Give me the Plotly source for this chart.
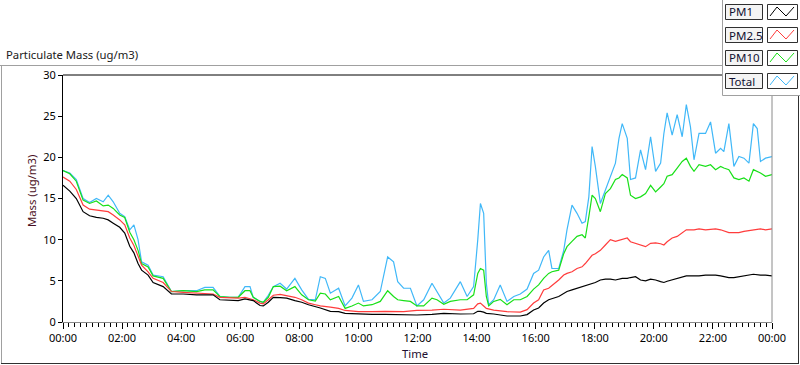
import pandas as pd
import plotly.graph_objects as go

# ---------------- data (hours since midnight, ug/m3) ----------------
t_coarse = [0, 0.23, 0.45, 0.68, 0.9, 1.13, 1.36, 1.53, 1.7, 1.92, 2.09, 2.26, 2.4, 2.54, 2.66, 2.88,
            3.05, 3.39, 3.67, 4.07, 4.52, 4.8, 5.08, 5.31, 5.65, 5.93, 6.16, 6.44, 6.67, 6.78, 6.95,
            7.12, 7.35, 7.57, 7.85, 8.08, 8.31, 8.54, 8.71, 9.05, 9.33, 9.55, 10.0, 10.46, 10.91,
            11.53, 11.98, 12.49, 12.89, 13.45, 13.9, 14.04, 14.13, 14.24, 14.33, 14.58, 15.03, 15.48,
            15.71, 15.93, 16.1, 16.27, 16.44, 16.78, 16.95, 17.06, 17.23, 17.4, 17.57, 17.68, 17.8,
            17.91, 18.02, 18.19, 18.36, 18.53, 18.7, 18.93, 19.1, 19.21, 19.38, 19.55, 19.72, 19.89,
            20.06, 20.23, 20.34, 20.45, 20.62, 20.79, 20.96, 21.1, 21.36, 21.53, 21.75, 22.09, 22.26,
            22.54, 22.71, 22.88, 23.05, 23.37, 23.61, 23.78, 24.0]
pm25 = [17.6, 17.1, 16.1, 14.2, 13.7, 13.6, 13.5, 13.4, 13.0, 12.4, 11.8, 10.2, 9.3, 8.1, 6.9, 6.1,
        5.3, 4.8, 3.7, 3.6, 3.5, 3.5, 3.4, 3.0, 2.9, 2.9, 3.0, 2.7, 2.3, 2.2, 2.7,
        3.25, 3.35, 3.2, 3.0, 2.7, 2.3, 2.1, 1.95, 1.8, 1.65, 1.4, 1.25, 1.25, 1.3,
        1.25, 1.4, 1.45, 1.55, 1.45, 1.65, 2.2, 2.3, 1.95, 1.65, 1.45, 1.25, 1.2,
        1.5, 2.3, 2.7, 3.9, 4.1, 5.1, 5.7, 5.9, 6.1, 6.5, 6.7, 7.1, 7.7,
        8.1, 8.3, 8.7, 9.35, 10.0, 9.8, 10.0, 10.2, 9.75, 9.55, 9.35, 9.15, 9.55,
        9.6, 9.5, 9.35, 9.75, 10.2, 10.4, 10.8, 11.2, 11.2, 11.3, 11.2, 11.3, 11.2,
        10.85, 10.85, 10.85, 11.0, 11.2, 11.3, 11.2, 11.3]
pm1 = [16.6, 15.9, 15.0, 13.4, 12.9, 12.7, 12.6, 12.4, 12.0, 11.5, 10.8, 9.2, 8.4, 7.1, 6.3, 5.7,
       4.8, 4.3, 3.4, 3.4, 3.3, 3.3, 3.3, 2.7, 2.6, 2.6, 2.8, 2.6, 2.0, 1.95, 2.4,
       3.0, 2.95, 2.9, 2.6, 2.4, 2.1, 1.9, 1.7, 1.3, 1.25, 1.05, 0.97, 0.93, 0.93,
       0.85, 0.85, 0.93, 1.05, 0.97, 1.0, 1.3, 1.3, 1.2, 1.05, 0.97, 0.73, 0.73,
       0.9, 1.45, 1.7, 2.3, 2.7, 3.1, 3.5, 3.7, 3.9, 4.1, 4.3, 4.4, 4.5,
       4.65, 4.8, 5.1, 5.2, 5.2, 5.1, 5.3, 5.3, 5.4, 5.5, 5.1, 5.0, 5.2,
       5.1, 4.9, 4.8, 4.95, 5.1, 5.3, 5.4, 5.6, 5.6, 5.6, 5.7, 5.7, 5.6,
       5.4, 5.4, 5.5, 5.55, 5.8, 5.7, 5.7, 5.6]

t_fine = [0, 0.23, 0.45, 0.68, 0.9, 1.13, 1.36, 1.53, 1.7, 1.92, 2.09, 2.26, 2.4, 2.54, 2.66, 2.88,
          3.05, 3.39, 3.67, 4.07, 4.52, 4.8, 5.08, 5.31, 5.65, 5.93, 6.16, 6.33, 6.44, 6.67, 6.78,
          6.95, 7.12, 7.35, 7.57, 7.85, 8.08, 8.31, 8.54, 8.71, 8.88, 9.05, 9.33, 9.55, 9.78, 10.0,
          10.17, 10.46, 10.74, 10.91, 10.99, 11.19, 11.33, 11.53, 11.76, 11.98, 12.21, 12.49, 12.66,
          12.89, 13.11, 13.45, 13.68, 13.9, 14.04, 14.13, 14.24, 14.33, 14.41, 14.58, 14.8, 15.03,
          15.26, 15.48, 15.71, 15.93, 16.1, 16.27, 16.44, 16.55, 16.78, 16.95, 17.06, 17.23, 17.4,
          17.57, 17.68, 17.8, 17.91, 18.02, 18.19, 18.36, 18.53, 18.7, 18.82, 18.93, 19.1, 19.21,
          19.38, 19.55, 19.72, 19.89, 20.06, 20.23, 20.34, 20.45, 20.62, 20.79, 20.96, 21.1, 21.24,
          21.36, 21.53, 21.75, 21.92, 22.09, 22.26, 22.37, 22.54, 22.71, 22.88, 23.05, 23.22, 23.37,
          23.5, 23.61, 23.78, 24.0]
total = [18.4, 18.1, 17.3, 15.0, 14.5, 15.0, 14.6, 15.4, 14.6, 13.2, 12.8, 11.2, 11.8, 10.0, 7.3, 6.9,
         5.7, 5.5, 3.7, 3.8, 3.8, 4.2, 4.2, 3.1, 3.0, 3.0, 4.3, 4.3, 3.0, 2.5, 2.4,
         3.25, 4.3, 4.7, 4.0, 5.3, 3.9, 2.75, 2.7, 5.5, 5.3, 3.5, 4.1, 1.95, 2.9, 4.5,
         2.5, 2.7, 3.7, 6.7, 7.9, 7.3, 4.9, 4.1, 4.1, 1.95, 2.7, 4.7, 3.7,
         2.3, 2.9, 4.9, 3.1, 4.3, 10.0, 14.4, 13.2, 4.7, 2.1, 2.7, 4.5, 2.5,
         3.1, 3.4, 4.0, 5.9, 6.3, 7.9, 8.7, 6.5, 6.5, 8.7, 11.2, 14.2, 13.2,
         12.0, 12.2, 15.2, 21.3, 18.9, 14.4, 16.0, 17.7, 19.3, 22.3, 24.1, 22.3, 17.3,
         17.5, 20.9, 18.5, 22.5, 18.3, 19.3, 22.9, 25.4, 22.7, 25.2, 22.5, 26.4, 23.7,
         19.7, 22.9, 22.9, 24.3, 20.5, 21.1, 20.7, 24.1, 18.9, 20.1, 19.9, 19.3, 24.1,
         23.5, 19.5, 19.9, 20.1]
pm10 = [18.4, 18.0, 17.1, 14.8, 14.4, 14.7, 14.1, 14.2, 13.8, 13.0, 12.7, 10.9, 10.0, 8.7, 7.1, 6.7,
        5.6, 5.3, 3.7, 3.8, 3.7, 3.9, 3.9, 3.1, 3.0, 3.0, 3.8, 3.8, 3.0, 2.5, 2.4,
        3.0, 4.3, 4.35, 3.8, 4.3, 3.3, 2.7, 2.55, 3.5, 3.4, 2.7, 3.1, 1.65, 1.95, 2.3,
        1.95, 2.1, 2.5, 3.5, 3.8, 3.1, 2.7, 2.6, 2.5, 1.95, 1.95, 2.9, 2.7,
        2.15, 2.5, 2.7, 2.7, 3.3, 5.9, 6.5, 6.3, 3.1, 1.95, 2.5, 2.75, 2.1,
        2.7, 2.7, 3.1, 4.0, 4.5, 5.3, 5.9, 6.1, 6.3, 8.3, 9.15, 9.8, 10.4,
        10.6, 10.2, 12.8, 15.4, 15.0, 13.4, 15.6, 16.2, 17.3, 17.5, 17.9, 17.5, 15.4,
        15.0, 15.2, 15.6, 16.6, 15.8, 16.4, 16.8, 17.7, 17.9, 18.7, 19.5, 19.9, 18.9,
        18.3, 19.1, 18.9, 19.1, 18.5, 18.9, 18.7, 18.5, 17.5, 17.3, 17.5, 17.1, 18.5,
        18.3, 18.1, 17.7, 17.9]

series_names = ["PM1", "PM2.5", "PM10", "Total"]
series_colors = ["#000000", "#ff3c3c", "#18e018", "#40b8f8"]
y_ticks = [0, 5, 10, 15, 20, 25, 30]

# ---------------- figure ----------------
W, H = 800, 365
L, R, T, B = 63, 28, 75, 43
PW, PH = W - L - R, H - T - B
FONT = "Noto Sans"

day0 = pd.Timestamp("2021-01-01")
def to_time(hours):
    return day0 + pd.to_timedelta(hours, unit="h")

def px(x):
    return (x - L) / PW

def py(y):
    return (H - B - y) / PH

data_by_name = {
    "PM1": (t_coarse, pm1),
    "PM2.5": (t_coarse, pm25),
    "PM10": (t_fine, pm10),
    "Total": (t_fine, total),
}

fig = go.Figure()
for name in ["Total", "PM10", "PM2.5", "PM1"]:
    tt, vv = data_by_name[name]
    col = series_colors[series_names.index(name)]
    fig.add_trace(go.Scatter(x=to_time(tt), y=vv, mode="lines", name=name,
                             line=dict(color=col, width=1.2), showlegend=False))

shapes = []
# outer frame
shapes.append(dict(type="line", xref="paper", yref="paper", x0=px(0), x1=px(722), y0=py(65.5), y1=py(65.5),
                   line=dict(color="#a0a0a0", width=1)))
shapes.append(dict(type="line", xref="paper", yref="paper", x0=px(1.5), x1=px(1.5), y0=py(65), y1=py(364),
                   line=dict(color="#a0a0a0", width=1)))
shapes.append(dict(type="line", xref="paper", yref="paper", x0=px(1), x1=px(799), y0=py(363.5), y1=py(363.5),
                   line=dict(color="#303030", width=1)))
shapes.append(dict(type="line", xref="paper", yref="paper", x0=px(798.5), x1=px(798.5), y0=py(95), y1=py(364),
                   line=dict(color="#303030", width=1)))
# plot area top (black) and right (gray) borders
shapes.append(dict(type="line", xref="paper", yref="paper", x0=0, x1=1, y0=1, y1=1,
                   line=dict(color="#000000", width=1)))
shapes.append(dict(type="line", xref="paper", yref="paper", x0=1, x1=1, y0=0, y1=1,
                   line=dict(color="#8a8a8a", width=1)))
# legend panel
shapes.append(dict(type="rect", xref="paper", yref="paper", x0=px(722.5), x1=px(801), y0=py(95.5), y1=py(-1),
                   fillcolor="#ffffff", line=dict(color="#a0a0a0", width=1)))

annotations = []
for i, name in enumerate(series_names):
    top = 4 + 23 * i
    bot = top + 15
    shapes.append(dict(type="rect", xref="paper", yref="paper", x0=px(725.5), x1=px(762.5),
                       y0=py(bot + 0.5), y1=py(top + 0.5), fillcolor="#f4f4f4",
                       line=dict(color="#303030", width=1)))
    shapes.append(dict(type="rect", xref="paper", yref="paper", x0=px(767.5), x1=px(797.5),
                       y0=py(bot + 0.5), y1=py(top + 0.5), fillcolor="#ffffff",
                       line=dict(color="#303030", width=1)))
    zig = [(770, bot - 3), (777, top + 3), (786, bot - 3), (794, top + 3)]
    path = "M " + " L ".join(f"{px(a)},{py(b)}" for a, b in zig)
    shapes.append(dict(type="path", xref="paper", yref="paper", path=path,
                       line=dict(color=series_colors[i], width=1)))
    annotations.append(dict(text=name, xref="paper", yref="paper", x=px(726.5), y=py(top + 8),
                            xanchor="left", yanchor="middle", showarrow=False,
                            font=dict(family=FONT, size=11.5, color="#101030")))

# titles
annotations.append(dict(text="Particulate Mass (ug/m3)", xref="paper", yref="paper", x=px(4), y=py(55),
                        xanchor="left", yanchor="middle", showarrow=False,
                        font=dict(family=FONT, size=11.3, color="#202020")))
annotations.append(dict(text="Mass (ug/m3)", xref="paper", yref="paper", x=px(31), y=py(191),
                        xanchor="center", yanchor="middle", textangle=-90, showarrow=False,
                        font=dict(family=FONT, size=11.3, color="#4a0f22")))
annotations.append(dict(text="Time", xref="paper", yref="paper", x=px(415), y=py(353),
                        xanchor="center", yanchor="middle", showarrow=False,
                        font=dict(family=FONT, size=11.3, color="#1e1030")))

fig.update_layout(
    width=W, height=H, autosize=False,
    margin=dict(l=L, r=R, t=T, b=B, pad=0),
    paper_bgcolor="#ffffff", plot_bgcolor="#ffffff",
    font=dict(family=FONT, size=11, color="#000000"),
    shapes=shapes, annotations=annotations,
    showlegend=False,
    xaxis=dict(type="date", range=[to_time(0), to_time(24)], tickformat="%H:%M",
               tick0=to_time(0), dtick=2 * 3600 * 1000,
               showline=True, linecolor="#8a8a8a", linewidth=1,
               ticks="outside", ticklen=6, tickcolor="#000000", tickwidth=1,
               minor=dict(ticks="outside", ticklen=4, tickcolor="#000000", dtick=12 * 60 * 1000,
                          tick0=to_time(0), showgrid=False),
               showgrid=False, zeroline=False,
               tickfont=dict(family=FONT, size=11, color="#000000")),
    yaxis=dict(range=[0, 30], tickvals=y_ticks, showline=True, linecolor="#000000", linewidth=1,
               ticks="outside", ticklen=4, tickcolor="#000000",
               showgrid=False, zeroline=False,
               tickfont=dict(family=FONT, size=11, color="#000000")),
)

fig.write_html("out.html", config={"displayModeBar": False},
               post_script="document.body.style.margin='0';document.body.style.overflow='hidden';")
